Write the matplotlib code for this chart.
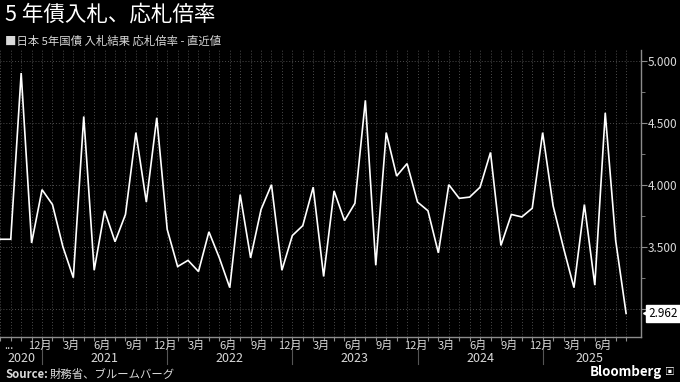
import matplotlib
matplotlib.use("Agg")
import matplotlib.pyplot as plt
import matplotlib.transforms as mtransforms
import pandas as pd

plt.rcParams["font.family"] = ["Noto Sans CJK JP", "DejaVu Sans"]

# ---- data (monthly auctions, Sep 2020 .. Sep 2025) ------------------------
start_month = "2020-09"
bid_to_cover = [
    3.56, 3.56, 4.90, 3.53, 3.96, 3.84, 3.50, 3.25, 4.55, 3.31,
    3.79, 3.54, 3.76, 4.42, 3.86, 4.54, 3.64, 3.34, 3.39, 3.30,
    3.62, 3.41, 3.17, 3.92, 3.41, 3.80, 4.00, 3.31, 3.59, 3.67,
    3.98, 3.26, 3.95, 3.71, 3.85, 4.68, 3.35, 4.42, 4.07, 4.17,
    3.86, 3.79, 3.45, 4.00, 3.89, 3.90, 3.98, 4.26, 3.51, 3.76,
    3.74, 3.81, 4.42, 3.83, 3.49, 3.17, 3.84, 3.19, 4.58, 3.55,
    2.962,
]
month_names = {3: "3月", 6: "6月", 9: "9月", 12: "12月"}
y_ticks = [3.0, 3.5, 4.0, 4.5, 5.0]

title = "5 年債入札、応札倍率"
subtitle = "日本 5年国債 入札結果 応札倍率 - 直近値"
source = "財務省、ブルームバーグ"

months = pd.date_range(start_month, periods=len(bid_to_cover), freq="MS")
x = list(range(len(months)))

BG = "black"
GRID = "#4d4d4d"
AXIS = "#8c8c8c"
TXT = "#d9d9d9"

fig = plt.figure(figsize=(6.8, 3.82), dpi=100, facecolor=BG)
ax = fig.add_axes([0.0, 45 / 382, 640.7 / 680, 287 / 382], facecolor=BG)

ax.plot(x, bid_to_cover, color="white", lw=1.2, zorder=3, solid_joinstyle="miter")

ax.set_xlim(-0.03, 61.4)
ax.set_ylim(2.772, 5.086)

# grid: monthly verticals, 0.5 horizontals, dotted
ax.set_xticks(x)
ax.set_yticks(y_ticks)
ax.set_yticks([3.25, 3.75, 4.25, 4.75], minor=True)
ax.grid(True, which="major", color=GRID, lw=0.7, linestyle=(0, (1, 2)))
ax.tick_params(axis="x", which="major", length=3, color=AXIS, labelbottom=False)
ax.yaxis.tick_right()
ax.tick_params(axis="y", which="both", direction="out", color=AXIS, labelcolor=TXT,
               labelsize=8.5)
ax.tick_params(axis="y", which="major", length=4, pad=1)
ax.tick_params(axis="y", which="minor", length=3)
ax.set_yticklabels([f"{v:.3f}" for v in y_ticks])

for side in ("top", "left"):
    ax.spines[side].set_visible(False)
for side in ("bottom", "right"):
    ax.spines[side].set_color(AXIS)
    ax.spines[side].set_linewidth(1.0)

# month labels below the axis
trans = mtransforms.blended_transform_factory(ax.transData, fig.transFigure)
for i, m in enumerate(months):
    if i == 0:
        ax.text(i + 0.8, 1 - 346 / 382, "...", transform=trans, ha="center",
                va="center", color=TXT, fontsize=8)
    elif m.month in month_names and i <= 57:
        ax.text(i + 0.8, 1 - 346 / 382, month_names[m.month], transform=trans,
                ha="center", va="center", color=TXT, fontsize=8)

# year labels + separators
years = sorted(set(m.year for m in months))
for yr in years:
    idx = [i for i, m in enumerate(months) if m.year == yr]
    lo = max(idx[0], 0)
    hi = min(idx[-1] + 1, 61.4)
    ax.text((lo + hi) / 2, 1 - 359 / 382, str(yr), transform=trans, ha="center",
            va="center", color=TXT, fontsize=9)
    if idx[0] > 0:
        ax.plot([idx[0], idx[0]], [1 - 342 / 382, 1 - 364 / 382], transform=trans,
                color="#555555", lw=0.8, clip_on=False)

# last value tag
last = bid_to_cover[-1]
tag_tr = mtransforms.blended_transform_factory(ax.transAxes, ax.transData)
ax.text(1.012, last, f"{last:.3f}", transform=tag_tr, ha="left", va="center",
        color="black", fontsize=8.5, zorder=6, clip_on=False,
        bbox=dict(boxstyle="square,pad=0.18", fc="white", ec="white"))
ax.plot([1.008], [last], marker="<", ms=5, color="white", transform=tag_tr,
        clip_on=False, zorder=6)

# titles and footer
fig.text(5 / 680, 1 - 15 / 382, title, color="white", fontsize=15.5,
         va="center", ha="left")
fig.text(5 / 680, 1 - 41 / 382, "■" + subtitle, color=TXT, fontsize=8.2,
         va="center", ha="left")
fig.text(5 / 680, 1 - 374 / 382, "Source:", color=TXT, fontsize=8.2,
         fontweight="bold", va="center", ha="left")
fig.text(50 / 680, 1 - 374 / 382, source, color=TXT, fontsize=8.2,
         va="center", ha="left")
fig.text(662 / 680, 1 - 372 / 382, "Bloomberg", color="white", fontsize=9.5,
         fontweight="bold", va="center", ha="right")
fig.text(670 / 680, 1 - 372 / 382, "▣", color="white", fontsize=7,
         va="center", ha="center")

fig.savefig("out.png", dpi=100, facecolor=BG)
